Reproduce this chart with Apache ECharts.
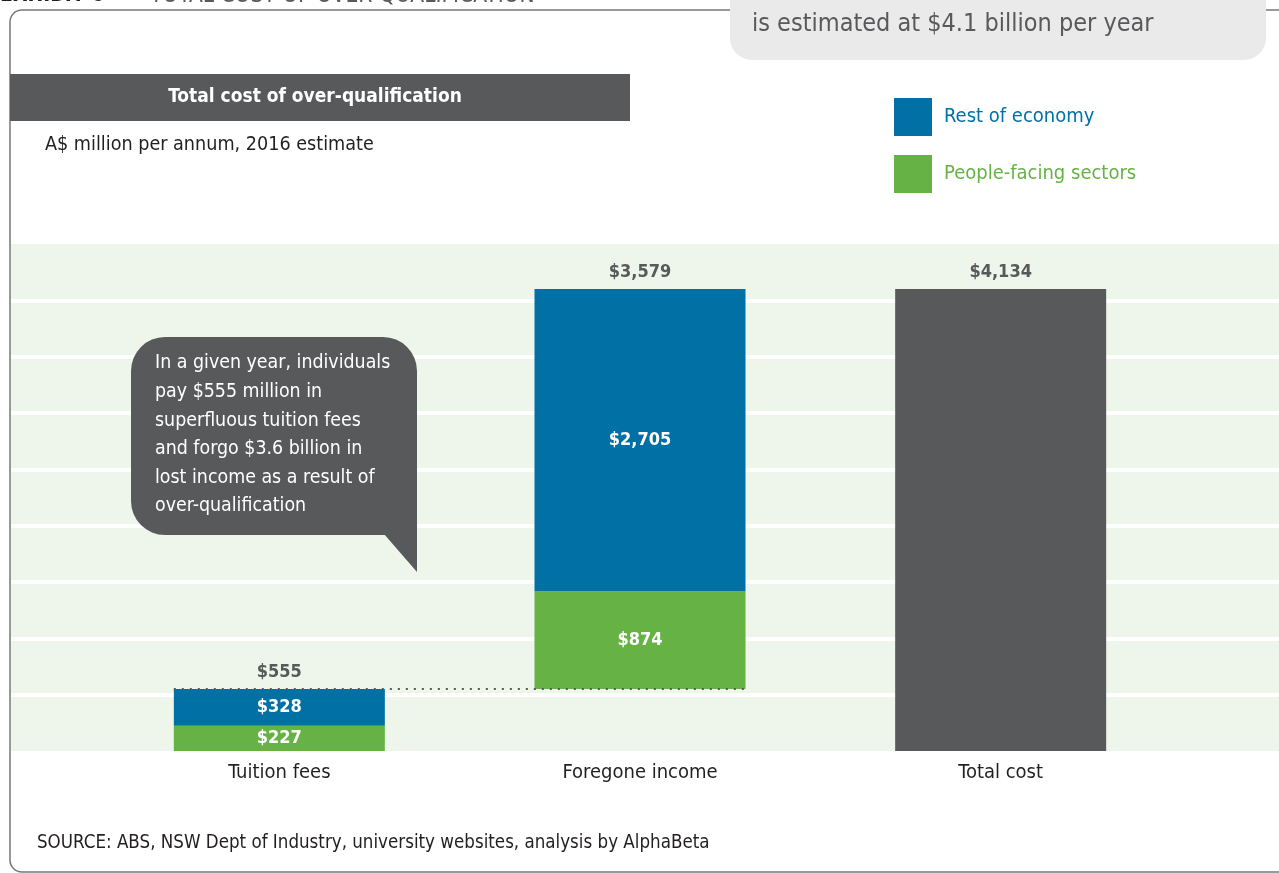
<!DOCTYPE html>
<html>
<head>
<meta charset="utf-8">
<script src="https://cdn.jsdelivr.net/npm/echarts@6/dist/echarts.min.js"></script>
<style>
  html, body { margin: 0; padding: 0; background: #fff; }
  #chart { width: 1279px; height: 873px; }
</style>
</head>
<body>
<div id="chart"></div>
<script>
// values, A$ million per annum
const categories = ['Tuition fees', 'Foregone income', 'Total cost'];
const baseValues = [0, 555, 0];            // invisible waterfall offset
const peopleFacing = [227, 874, '-'];
const restOfEconomy = [328, 2705, '-'];
const totalCost = ['-', '-', 4134];
const barTotals = [555, 3579, 4134];
const axisMax = 4536;
const stripeCount = 9;

const FONT = '"DejaVu Sans Condensed", "Liberation Sans Narrow", "Roboto", sans-serif';
const BLUE = '#0070a5';
const GREEN = '#66b245';
const GREY = '#58595b';

// layout of bar grid
const gridLeft = 99, gridRight = 98, barWidth = 211;
const bandWidth = (1279 - gridLeft - gridRight) / categories.length;

function money(v) {
  return '$' + v.toLocaleString('en-US');
}

let myChart = echarts.init(document.getElementById('chart'));

let option = {
  animation: false,
  textStyle: { fontFamily: FONT },
  grid: [
    // striped background
    { left: 11, right: 0, top: 244, bottom: 122, show: true, backgroundColor: '#eef5ea', borderWidth: 0 },
    // bars
    { left: gridLeft, right: gridRight, top: 244, bottom: 122 }
  ],
  legend: {
    orient: 'vertical',
    left: 894,
    top: 98,
    padding: 0,
    itemWidth: 38,
    itemHeight: 38,
    itemGap: 19,
    icon: 'rect',
    data: [
      { name: 'Rest of economy', textStyle: { color: BLUE } },
      { name: 'People-facing sectors', textStyle: { color: GREEN } }
    ],
    textStyle: { fontSize: 20, fontFamily: FONT, padding: [8, 0, 0, 7] }
  },
  xAxis: [
    { type: 'value', gridIndex: 0, min: 0, max: 1, show: false },
    {
      type: 'category',
      gridIndex: 1,
      data: categories,
      axisLine: { show: false },
      axisTick: { show: false },
      axisLabel: { color: '#231f20', fontSize: 20, margin: 12, fontFamily: FONT }
    }
  ],
  yAxis: [
    {
      type: 'value',
      gridIndex: 0,
      min: 0,
      max: stripeCount,
      interval: 1,
      axisLine: { show: false },
      axisTick: { show: false },
      axisLabel: { show: false },
      splitLine: { show: true, showMinLine: false, showMaxLine: false, lineStyle: { color: '#ffffff', width: 4 } }
    },
    { type: 'value', gridIndex: 1, min: 0, max: axisMax, show: false }
  ],
  series: [
    {
      name: 'base',
      type: 'bar',
      stack: 'w',
      xAxisIndex: 1,
      yAxisIndex: 1,
      barWidth: barWidth,
      itemStyle: { color: 'transparent' },
      silent: true,
      data: baseValues,
      markLine: {
        symbol: 'none',
        silent: true,
        label: { show: false },
        lineStyle: { color: GREY, type: [2, 6], width: 2 },
        data: [[
          { coord: [0, 555], x: gridLeft + bandWidth * 0.5 - barWidth / 2 },
          { coord: [1, 555], x: gridLeft + bandWidth * 1.5 + barWidth / 2 + 2 }
        ]]
      }
    },
    {
      name: 'People-facing sectors',
      type: 'bar',
      stack: 'w',
      xAxisIndex: 1,
      yAxisIndex: 1,
      barWidth: barWidth,
      itemStyle: { color: GREEN },
      label: {
        show: true,
        position: 'inside',
        color: '#fff',
        fontWeight: 'bold',
        fontSize: 18,
        fontFamily: FONT,
        formatter: p => money(p.value)
      },
      data: peopleFacing
    },
    {
      name: 'Rest of economy',
      type: 'bar',
      stack: 'w',
      xAxisIndex: 1,
      yAxisIndex: 1,
      barWidth: barWidth,
      itemStyle: { color: BLUE },
      label: {
        show: true,
        position: 'inside',
        color: '#fff',
        fontWeight: 'bold',
        fontSize: 18,
        fontFamily: FONT,
        formatter: p => money(p.value)
      },
      data: restOfEconomy
    },
    {
      name: 'Total cost',
      type: 'bar',
      stack: 'w',
      xAxisIndex: 1,
      yAxisIndex: 1,
      barWidth: barWidth,
      itemStyle: { color: GREY },
      data: totalCost
    },
    {
      // zero height bar on top of each stack, only carries the total label
      name: 'totals',
      type: 'bar',
      stack: 'w',
      xAxisIndex: 1,
      yAxisIndex: 1,
      barWidth: barWidth,
      itemStyle: { color: 'transparent' },
      label: {
        show: true,
        position: 'top',
        distance: 8,
        color: GREY,
        fontWeight: 'bold',
        fontSize: 18,
        fontFamily: FONT,
        formatter: p => money(barTotals[p.dataIndex])
      },
      data: barTotals.map(() => 0)
    }
  ],
  graphic: [
    // outer frame
    {
      type: 'rect',
      shape: { x: 10, y: 10, width: 1300, height: 862, r: 12 },
      style: { fill: 'none', stroke: '#77787b', lineWidth: 1.5 },
      z: 1
    },
    // exhibit header, cut off by the top edge
    {
      type: 'text',
      left: 0,
      top: -15,
      style: { text: 'EXHIBIT 6', fill: '#231f20', fontSize: 21, fontWeight: 'bold', fontFamily: FONT },
      z: 2
    },
    {
      type: 'text',
      left: 150,
      top: -15,
      style: { text: 'TOTAL COST OF OVER-QUALIFICATION', fill: GREY, fontSize: 22.5, fontFamily: FONT },
      z: 2
    },
    // key message box top right
    {
      type: 'rect',
      shape: { x: 730, y: -40, width: 536, height: 100, r: 22 },
      style: { fill: '#eaeaea' },
      z: 3
    },
    {
      type: 'text',
      x: 752,
      y: 24,
      style: {
        text: 'is estimated at $4.1 billion per year',
        fill: GREY,
        fontSize: 25,
        fontFamily: FONT,
        textVerticalAlign: 'middle'
      },
      z: 4
    },
    // title bar
    {
      type: 'rect',
      shape: { x: 10, y: 74, width: 620, height: 47 },
      style: { fill: GREY },
      z: 3
    },
    {
      type: 'text',
      x: 315,
      y: 97,
      style: {
        text: 'Total cost of over-qualification',
        fill: '#fff',
        fontSize: 19,
        fontWeight: 'bold',
        fontFamily: FONT,
        textAlign: 'center',
        textVerticalAlign: 'middle'
      },
      z: 4
    },
    {
      type: 'text',
      x: 45,
      y: 145,
      style: {
        text: 'A$ million per annum, 2016 estimate',
        fill: '#231f20',
        fontSize: 19.6,
        fontFamily: FONT,
        textVerticalAlign: 'middle'
      },
      z: 4
    },
    // speech bubble
    {
      type: 'rect',
      shape: { x: 131, y: 337, width: 286, height: 198, r: [34, 34, 0, 34] },
      style: { fill: GREY },
      z: 10
    },
    {
      type: 'polygon',
      shape: { points: [[384, 534], [417, 534], [417, 572]] },
      style: { fill: GREY },
      z: 10
    },
    {
      type: 'text',
      x: 155,
      y: 349,
      style: {
        text: 'In a given year, individuals\npay $555 million in\nsuperfluous tuition fees\nand forgo $3.6 billion in\nlost income as a result of\nover-qualification',
        fill: '#fff',
        fontSize: 19.4,
        lineHeight: 28.6,
        fontFamily: FONT,
        textVerticalAlign: 'top'
      },
      z: 11
    },
    // source
    {
      type: 'text',
      x: 37,
      y: 843,
      style: {
        text: 'SOURCE: ABS, NSW Dept of Industry, university websites, analysis by AlphaBeta',
        fill: '#231f20',
        fontSize: 18.6,
        fontFamily: FONT,
        textVerticalAlign: 'middle'
      },
      z: 4
    }
  ]
};

myChart.setOption(option);
</script>
</body>
</html>
